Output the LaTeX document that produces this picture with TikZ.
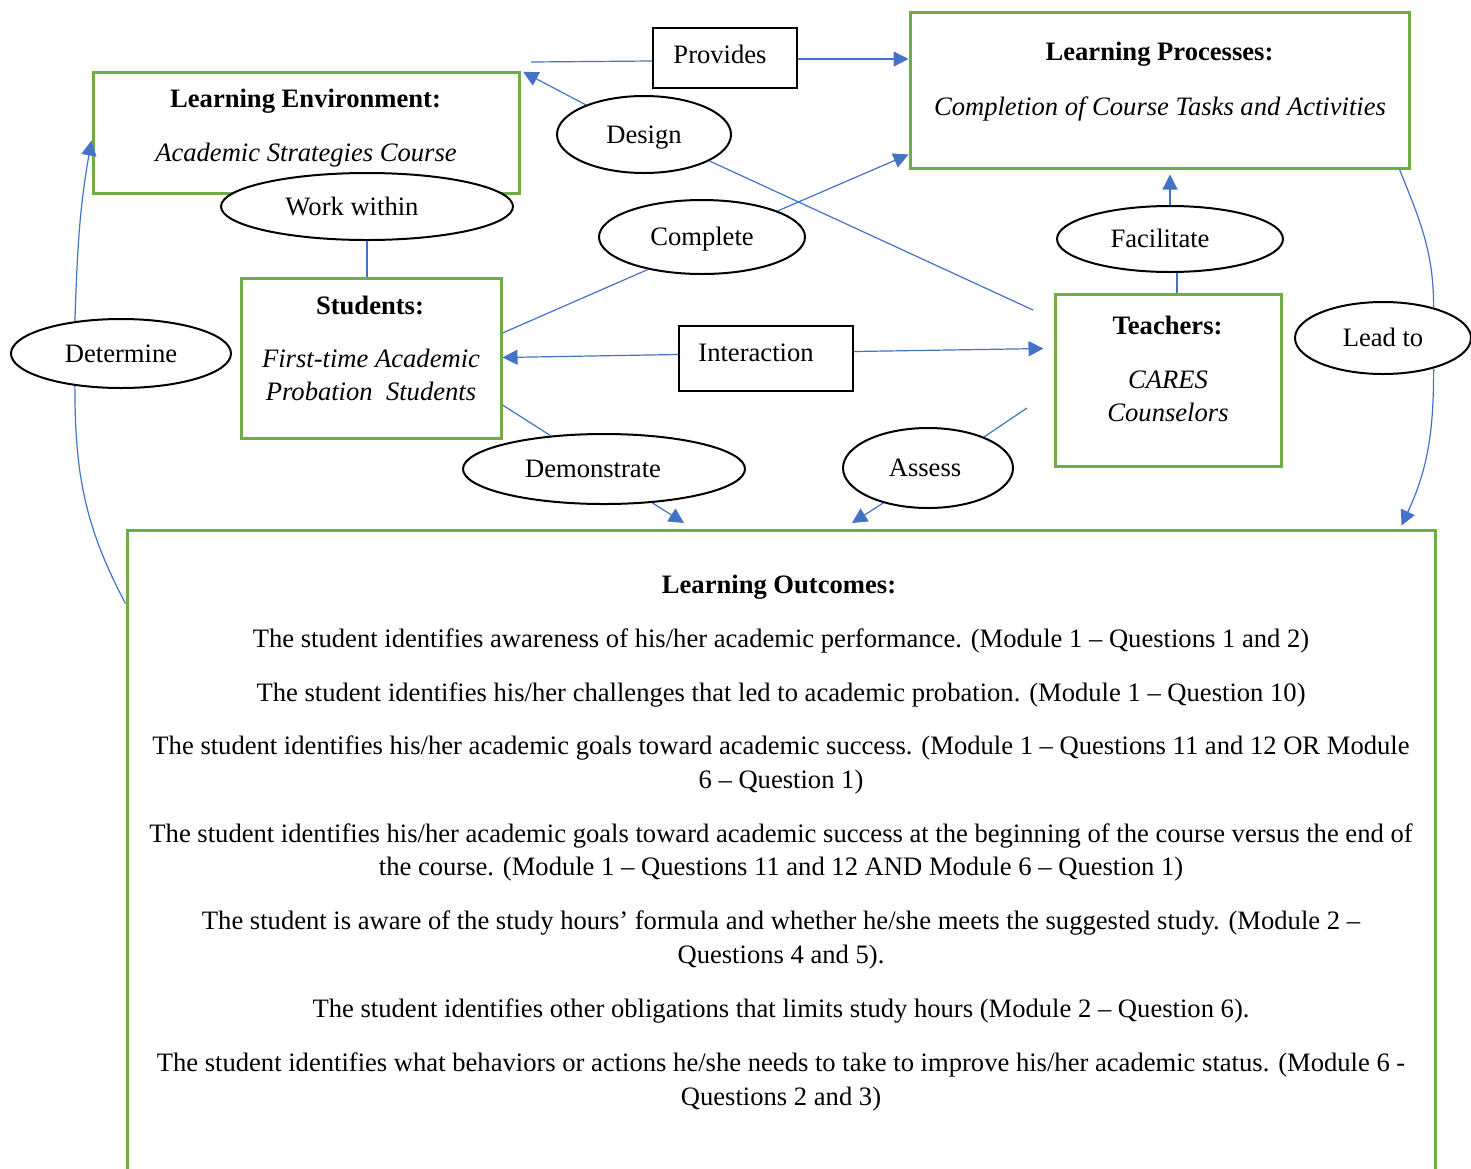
\documentclass[tikz,border=0pt]{standalone}
\usepackage{fontspec}
\setmainfont{Liberation Serif}
\usetikzlibrary{shapes.geometric,arrows.meta}
\definecolor{grn}{HTML}{70AD47}
\definecolor{blu}{HTML}{4472C4}
\begin{document}
\begin{tikzpicture}[x=1pt,y=-1pt,
  every node/.style={font=\fontsize{26.6}{34}\selectfont},
  gbox/.style={draw=grn,line width=3pt,rectangle,inner sep=0pt},
  kbox/.style={draw=black,line width=2.2pt,rectangle,inner sep=0pt,text height=17.5pt,text depth=0pt},
  oval/.style={ellipse,draw=black,line width=2pt,fill=white,inner sep=0pt,text height=17.5pt,text depth=0pt},
  conn/.style={draw=blu,line width=1.2pt},
  arr/.style={conn,-{Triangle[length=15pt,width=15pt]}},
  tl/.style={anchor=base,inner sep=0pt}
]
\useasboundingbox (0,0) rectangle (1471,1168);
\clip (0,0) rectangle (1471,1168);
\fill[white] (0,0) rectangle (1471,1168);

% boxes
\node[gbox,minimum width=1308,minimum height=680] (out) at (781,870) {};
\node[gbox,minimum width=426,minimum height=121] (le) at (306,132.5) {};
\node[gbox,minimum width=499,minimum height=156] (lp) at (1159.5,90) {};
\node[gbox,minimum width=260,minimum height=160] (st) at (371,358) {};
\node[gbox,minimum width=226,minimum height=172] (te) at (1168,380) {};
\node[kbox,minimum width=144,minimum height=60,text depth=6pt] (prov) at (725,58) {Provides\hspace*{10pt}};
\node[kbox,minimum width=174,minimum height=65,text depth=12pt] (int) at (766,358.5) {Interaction\hspace*{20pt}};

% box texts
\node[tl] at (305.5,107) {\bfseries Learning Environment:};
\node[tl] at (306,161) {\itshape Academic Strategies Course};
\node[tl] at (1159.5,60) {\bfseries Learning Processes:};
\node[tl] at (1160,115) {\itshape Completion of Course Tasks and Activities};
\node[tl] at (370,314) {\bfseries Students:};
\node[tl] at (371,367) {\itshape First-time Academic};
\node[tl] at (371,400) {\itshape Probation\ \ Students};
\node[tl] at (1167.5,334) {\bfseries Teachers:};
\node[tl] at (1168,388) {\itshape CARES};
\node[tl] at (1168,421) {\itshape Counselors};

% outcomes text
\node[tl] at (779,593) {\bfseries Learning Outcomes:};
\node[tl] at (781,647) {The student identifies awareness of his/her academic performance. (Module 1 – Questions 1 and 2)};
\node[tl] at (781,701) {The student identifies his/her challenges that led to academic probation. (Module 1 – Question 10)};
\node[tl] at (781,754) {The student identifies his/her academic goals toward academic success. (Module 1 – Questions 11 and 12 OR Module};
\node[tl] at (781,788) {6 – Question 1)};
\node[tl] at (781,842) {The student identifies his/her academic goals toward academic success at the beginning of the course versus the end of};
\node[tl] at (781,875) {the course. (Module 1 – Questions 11 and 12 AND Module 6 – Question 1)};
\node[tl] at (781,929) {The student is aware of the study hours’ formula and whether he/she meets the suggested study. (Module 2 –};
\node[tl] at (781,963) {Questions 4 and 5).};
\node[tl] at (781,1017) {The student identifies other obligations that limits study hours (Module 2 – Question 6).};
\node[tl] at (781,1071) {The student identifies what behaviors or actions he/she needs to take to improve his/her academic status. (Module 6 -};
\node[tl] at (781,1105) {Questions 2 and 3)};

% ellipses
\node[oval,minimum width=174,minimum height=77] (des) at (644,134.5) {Design};
\node[oval,minimum width=292,minimum height=67] (ww) at (367,206.5) {Work within\hspace*{30pt}};
\node[oval,minimum width=206,minimum height=74] (com) at (702,237) {Complete};
\node[oval,minimum width=226,minimum height=66] (fac) at (1170,239) {Facilitate\hspace*{20pt}};
\node[oval,minimum width=220,minimum height=69] (det) at (121,353.5) {Determine};
\node[oval,minimum width=176,minimum height=72] (lead) at (1383,338) {Lead to};
\node[oval,minimum width=282,minimum height=70] (dem) at (604,469) {Demonstrate\hspace*{22pt}};
\node[oval,minimum width=170,minimum height=80] (ass) at (928,468) {Assess\hspace*{6pt}};

% connectors
\coordinate (pfree) at (531,62);
\coordinate (dte) at (1033,310);
\coordinate (demend) at (684,523);
\coordinate (tass) at (1027,408);
\coordinate (assend) at (852,523);

\draw[conn] (pfree) -- ([yshift=-3pt]prov.west);
\draw[arr] ([yshift=-1pt]prov.east) -- ([yshift=-1pt]prov.east -| lp.west);
\draw[arr,shorten >=3pt] (des.153) -- (le.north east);
\draw[conn] (des.-22) -- (dte);
\draw[arr] (com.19) -- ([yshift=15pt]lp.south west);
\draw[conn] ([yshift=25pt]st.east) -- (com.211);
\draw[conn] (ww.south) -- (ww.south |- st.north);
\draw[arr] (fac.north) -- ([yshift=-5pt]fac.north |- lp.south);
\draw[conn] ([xshift=7pt]fac.south) -- ([xshift=7pt]fac.south |- te.north);
\draw[arr] ([yshift=4pt]int.west) -- ([yshift=1pt]int.west -| st.east);
\draw[arr] ([yshift=7pt]int.east) -- ([xshift=-10pt,yshift=10pt]int.east -| te.west);
\draw[conn] ([yshift=-47pt]st.east) -- (dem.148);
\draw[arr] (dem.-35) -- (demend);
\draw[conn] (tass) -- (ass.29);
\draw[arr] (ass.218) -- (assend);
\draw[arr] (det.145) to[out=88,in=-100] ([yshift=-8pt]le.west);
\draw[conn] ([yshift=-75pt]out.north west) to[out=118,in=-90] (det.215);
\draw[conn] ([xshift=-11pt]lp.south east) to[out=-68,in=90] (lead.31);
\draw[arr] (lead.-31) to[out=-90,in=65] ([xshift=-35pt,yshift=3pt]out.north east);
\end{tikzpicture}
\end{document}
